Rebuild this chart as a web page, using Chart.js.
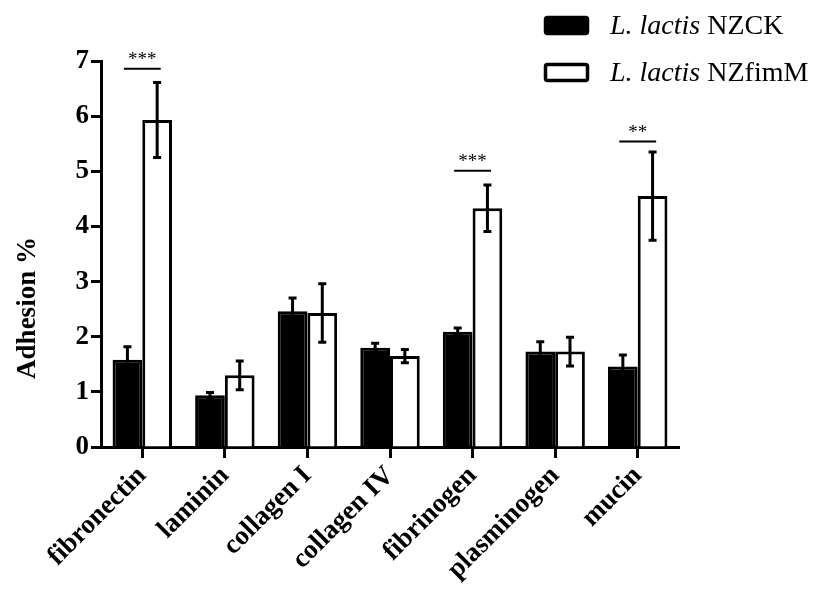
<!DOCTYPE html>
<html>
<head>
<meta charset="utf-8">
<script src="https://cdn.jsdelivr.net/npm/chart.js@4/dist/chart.umd.min.js"></script>
<style>
html,body{margin:0;padding:0;background:#fff;}
#wrap{width:827px;height:597px;position:relative;}
</style>
</head>
<body>
<div id="wrap"><canvas id="c" width="827" height="597"></canvas></div>
<script>
const categories = ['fibronectin','laminin','collagen I','collagen IV','fibrinogen','plasminogen','mucin'];
const nzckMean = [1.58, 0.94, 2.46, 1.80, 2.09, 1.73, 1.46];
const nzckErr  = [0.24, 0.05, 0.24, 0.08, 0.07, 0.18, 0.21];
const fimMean  = [5.93, 1.30, 2.43, 1.65, 4.33, 1.73, 4.55];
const fimErr   = [0.68, 0.26, 0.53, 0.12, 0.42, 0.26, 0.80];
const sigIndex = [0, 4, 6];
const sigLevel = [6.86, 5.01, 5.54];
const sigLabel = ['***', '***', '**'];
const yTicks = [0,1,2,3,4,5,6,7];
const seriesItalic = ['L. lactis', 'L. lactis'];
const seriesName = ['NZCK', 'NZfimM'];

const SERIF = '"Liberation Serif","Times New Roman",serif';
const errs = [nzckErr, fimErr];

const errorBars = {
  id: 'errorBars',
  afterDatasetsDraw(chart) {
    const ctx = chart.ctx, y = chart.scales.y;
    ctx.save();
    ctx.strokeStyle = '#000';
    ctx.lineWidth = 3;
    chart.data.datasets.forEach((ds, di) => {
      const meta = chart.getDatasetMeta(di);
      meta.data.forEach((bar, i) => {
        const v = ds.data[i], e = errs[di][i];
        const yt = y.getPixelForValue(v + e), yb = y.getPixelForValue(v - e);
        ctx.beginPath();
        ctx.moveTo(bar.x, yt); ctx.lineTo(bar.x, yb);
        ctx.moveTo(bar.x - 4, yt); ctx.lineTo(bar.x + 4, yt);
        ctx.moveTo(bar.x - 4, yb); ctx.lineTo(bar.x + 4, yb);
        ctx.stroke();
      });
    });
    const m0 = chart.getDatasetMeta(0), m1 = chart.getDatasetMeta(1);
    ctx.lineWidth = 2;
    ctx.fillStyle = '#000';
    ctx.font = '19px ' + SERIF;
    ctx.textAlign = 'center';
    ctx.textBaseline = 'alphabetic';
    sigIndex.forEach((ci, k) => {
      const b0 = m0.data[ci], b1 = m1.data[ci];
      const cx = (b0.x + b1.x) / 2;
      const half = (b1.x - b0.x) * 0.62;
      const py = y.getPixelForValue(sigLevel[k]);
      ctx.beginPath();
      ctx.moveTo(cx - half, py); ctx.lineTo(cx + half, py);
      ctx.stroke();
      ctx.fillText(sigLabel[k], cx, py - 4);
    });
    ctx.restore();
  }
};

const customLegend = {
  id: 'customLegend',
  afterDraw(chart) {
    const ctx = chart.ctx;
    ctx.save();
    const items = [{fill:'#000'},{fill:'#fff'}];
    items.forEach((it, i) => {
      const top = 16 + i * 47;
      ctx.lineWidth = 3.5;
      ctx.strokeStyle = '#000';
      ctx.fillStyle = it.fill;
      ctx.beginPath();
      if (ctx.roundRect) ctx.roundRect(545.5, top + 1.5, 42, 16, 2); else ctx.rect(545.5, top + 1.5, 42, 16);
      ctx.fill(); ctx.stroke();
      ctx.fillStyle = '#000';
      ctx.textAlign = 'left';
      ctx.textBaseline = 'alphabetic';
      ctx.font = 'italic 28px ' + SERIF;
      const t1 = seriesItalic[i] + ' ';
      ctx.fillText(t1, 610, top + 18);
      const w = ctx.measureText(t1).width;
      ctx.font = '28px ' + SERIF;
      ctx.fillText(seriesName[i], 610 + w, top + 18);
    });
    ctx.translate(28, 308);
    ctx.rotate(-Math.PI / 2);
    ctx.font = 'bold 27px ' + SERIF;
    ctx.textAlign = 'center';
    ctx.textBaseline = 'middle';
    ctx.fillText('Adhesion %', 0, 0);
    ctx.restore();
  }
};

new Chart(document.getElementById('c'), {
  type: 'bar',
  data: {
    labels: categories,
    datasets: [
      { label: seriesName[0], data: nzckMean, backgroundColor: '#000', borderColor: '#000', borderWidth: 3,
        categoryPercentage: 0.72, barPercentage: 1.0 },
      { label: seriesName[1], data: fimMean, backgroundColor: '#fff', borderColor: '#000', borderWidth: 3,
        categoryPercentage: 0.72, barPercentage: 1.0 }
    ]
  },
  options: {
    responsive: false,
    animation: false,
    devicePixelRatio: 1,
    layout: { padding: { top: 61, left: 0, right: 148, bottom: 0 } },
    plugins: { legend: { display: false }, tooltip: { enabled: false } },
    scales: {
      x: {
        grid: { display: true, drawOnChartArea: false, drawTicks: true, tickLength: 11, tickWidth: 3, tickColor: '#000', offset: false },
        border: { display: true, color: '#000', width: 3 },
        ticks: { color: '#000', font: { family: SERIF, size: 27, weight: 'bold' }, minRotation: 45, maxRotation: 45, padding: 2, autoSkip: false },
        afterFit(s) { s.height = 597 - 447; }
      },
      y: {
        min: 0, max: 7,
        afterBuildTicks(s) { s.ticks = yTicks.map(v => ({ value: v })); },
        grid: { display: true, drawOnChartArea: false, drawTicks: true, tickLength: 10, tickWidth: 3, tickColor: '#000' },
        border: { display: true, color: '#000', width: 3 },
        ticks: { color: '#000', font: { family: SERIF, size: 27, weight: 'bold' }, padding: 2 },
        afterFit(s) { s.width = 101; }
      }
    }
  },
  plugins: [errorBars, customLegend]
});
</script>
</body>
</html>
